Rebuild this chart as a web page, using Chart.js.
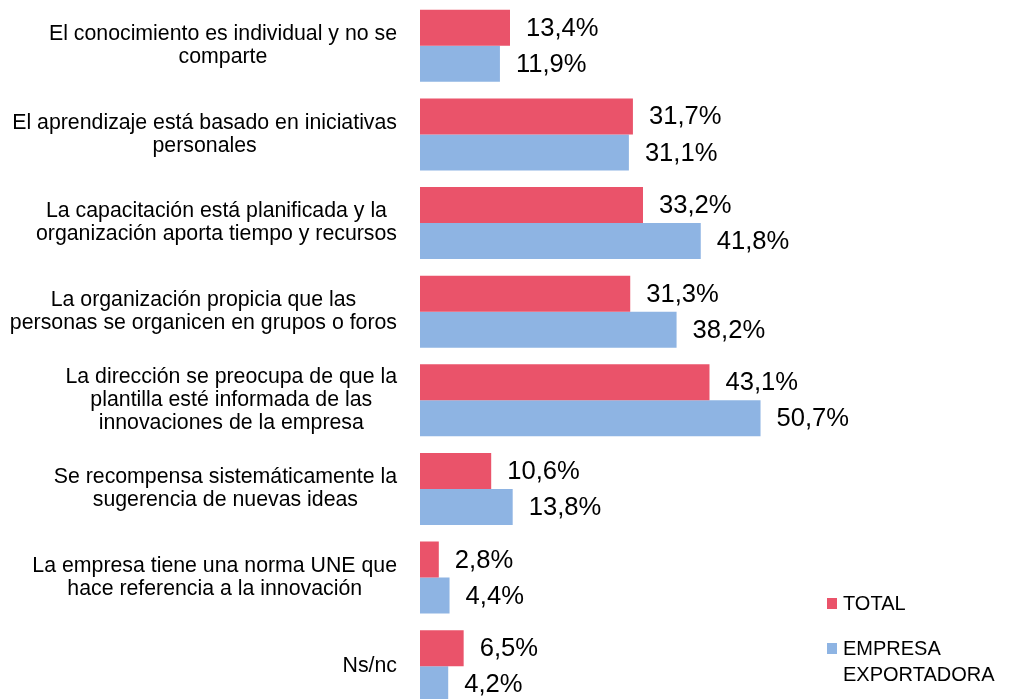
<!DOCTYPE html>
<html lang="es">
<head>
<meta charset="utf-8">
<title>Gestión del conocimiento</title>
<script src="https://cdn.jsdelivr.net/npm/chart.js@4/dist/chart.umd.min.js"></script>
<style>
  html, body { margin: 0; padding: 0; background: #fff; overflow: hidden; }
  #wrap { position: relative; width: 1009px; height: 699px; overflow: hidden; }
  #legend { position: absolute; left: 827px; top: 590px; font: 20px "Liberation Sans", Arial, sans-serif; color: #000; }
  .item { position: relative; padding-left: 16px; line-height: 26.5px; margin-bottom: 18px; }
  .item span.box { position: absolute; left: 0; top: 8px; width: 10px; height: 11px; }
</style>
</head>
<body>
<div id="wrap">
  <canvas id="knowChart" width="1009" height="711"></canvas>
  <div id="legend"></div>
</div>
<script>
let categories = [
  ["El conocimiento es individual y no se", "comparte"],
  ["El aprendizaje está basado en iniciativas", "personales"],
  ["La capacitación está planificada y la", "organización aporta tiempo y recursos"],
  ["La organización propicia que las", "personas se organicen en grupos o foros"],
  ["La dirección se preocupa de que la", "plantilla esté informada de las", "innovaciones de la empresa"],
  ["Se recompensa sistemáticamente la", "sugerencia de nuevas ideas"],
  ["La empresa tiene una norma UNE que", "hace referencia a la innovación"],
  ["Ns/nc"]
];
let total = [13.4, 31.7, 33.2, 31.3, 43.1, 10.6, 2.8, 6.5];
let exportadora = [11.9, 31.1, 41.8, 38.2, 50.7, 13.8, 4.4, 4.2];
let seriesNames = ["TOTAL", "EMPRESA\nEXPORTADORA"];
let seriesColors = ["#EA536A", "#8EB4E3"];

const FONT = '"Liberation Sans", Arial, sans-serif';

// category labels: block right-aligned, lines centred inside the block
let catLabels = {
  id: "catLabels",
  afterDraw(chart) {
    let ctx = chart.ctx;
    let y = chart.scales.y;
    let right = 397;
    ctx.save();
    ctx.font = "21.3px " + FONT;
    ctx.fillStyle = "#000";
    ctx.textAlign = "center";
    ctx.textBaseline = "middle";
    categories.forEach((lines, i) => {
      let w = Math.max(...lines.map(l => ctx.measureText(l).width));
      let cx = right - w / 2;
      let cy = y.getPixelForValue(i);
      let lh = 23;
      lines.forEach((l, k) => {
        ctx.fillText(l, cx, cy + (k - (lines.length - 1) / 2) * lh);
      });
    });
    ctx.restore();
  }
};

// value labels at the end of each bar
let valueLabels = {
  id: "valueLabels",
  afterDatasetsDraw(chart) {
    let ctx = chart.ctx;
    ctx.save();
    ctx.font = "25.6px " + FONT;
    ctx.fillStyle = "#000";
    ctx.textAlign = "left";
    ctx.textBaseline = "middle";
    chart.data.datasets.forEach((ds, di) => {
      chart.getDatasetMeta(di).data.forEach((bar, i) => {
        let txt = ds.data[i].toFixed(1).replace(".", ",") + "%";
        ctx.fillText(txt, bar.x + 16, bar.y + 1);
      });
    });
    ctx.restore();
  }
};

let ctx = document.getElementById("knowChart");
let chart = new Chart(ctx, {
  type: "bar",
  data: {
    labels: categories,
    datasets: [
      { label: seriesNames[0], data: total, backgroundColor: seriesColors[0] },
      { label: seriesNames[1], data: exportadora, backgroundColor: seriesColors[1] }
    ]
  },
  options: {
    indexAxis: "y",
    responsive: false,
    animation: false,
    categoryPercentage: 0.8125,
    barPercentage: 1,
    layout: { padding: { top: 1.5, bottom: 0.5, left: 0, right: 186 } },
    plugins: {
      legend: { display: false },
      tooltip: { enabled: false }
    },
    scales: {
      x: { display: false, min: 0, max: 60 },
      y: {
        grid: { display: false },
        border: { display: false },
        ticks: { display: false },
        afterFit(scale) { scale.width = 420; }
      }
    }
  },
  plugins: [catLabels, valueLabels]
});

// html legend
let legend = document.getElementById("legend");
seriesNames.forEach((name, i) => {
  let item = document.createElement("div");
  item.className = "item";
  let box = document.createElement("span");
  box.className = "box";
  box.style.background = seriesColors[i];
  item.appendChild(box);
  name.split("\n").forEach((line, k) => {
    if (k > 0) item.appendChild(document.createElement("br"));
    item.appendChild(document.createTextNode(line));
  });
  legend.appendChild(item);
});
</script>
</body>
</html>
